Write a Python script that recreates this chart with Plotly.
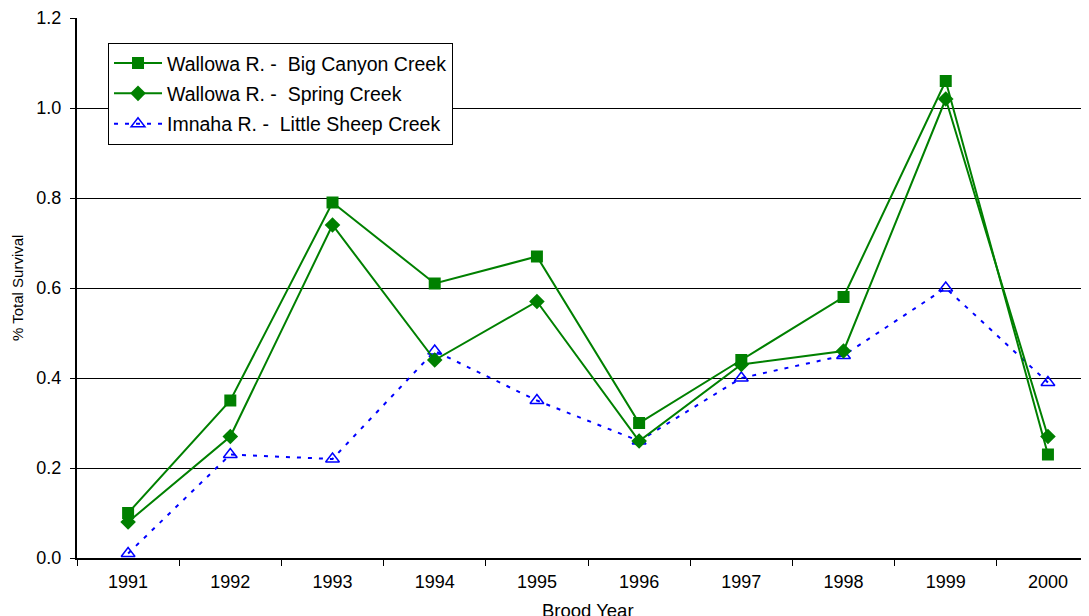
import plotly.graph_objects as go

years = ["1991", "1992", "1993", "1994", "1995", "1996", "1997", "1998", "1999", "2000"]
big_canyon = [0.10, 0.35, 0.79, 0.61, 0.67, 0.30, 0.44, 0.58, 1.06, 0.23]
spring_creek = [0.08, 0.27, 0.74, 0.44, 0.57, 0.26, 0.43, 0.46, 1.02, 0.27]
little_sheep = [0.01, 0.23, 0.22, 0.46, 0.35, 0.26, 0.40, 0.45, 0.60, 0.39]
y_ticks = [0.0, 0.2, 0.4, 0.6, 0.8, 1.0, 1.2]
y_tick_text = ["0.0", "0.2", "0.4", "0.6", "0.8", "1.0", "1.2"]

green = "#008000"
blue = "#0000FF"
font = "Liberation Sans, Arial, sans-serif"

fig = go.Figure()
fig.add_trace(go.Scatter(
    x=years, y=little_sheep, mode="lines+markers",
    name="Imnaha R. -\u00a0 Little Sheep Creek", legendgroup="c", legendrank=3,
    line=dict(color=blue, width=2, dash="4px,7px"),
    marker=dict(symbol="triangle-up-open", size=12, color=blue, line=dict(width=1.5, color=blue)),
))
fig.add_trace(go.Scatter(
    x=years, y=big_canyon, mode="lines+markers",
    name="Wallowa R. -\u00a0 Big Canyon Creek", legendgroup="a", legendrank=1,
    line=dict(color=green, width=2),
    marker=dict(symbol="square", size=12, color=green),
))
fig.add_trace(go.Scatter(
    x=years, y=spring_creek, mode="lines+markers",
    name="Wallowa R. -\u00a0 Spring Creek", legendgroup="b", legendrank=2,
    line=dict(color=green, width=2),
    marker=dict(symbol="diamond", size=12, color=green),
))

fig.update_layout(
    width=1089, height=616,
    margin=dict(l=69, r=0, t=10, b=66, autoexpand=False),
    paper_bgcolor="white", plot_bgcolor="white",
    font=dict(family=font, size=18, color="black"),
    showlegend=True,
    legend=dict(
        x=0.0304, y=0.954, xanchor="left", yanchor="top",
        bgcolor="white", bordercolor="black", borderwidth=1,
        font=dict(size=19.5, family=font, color="black"),
        traceorder="grouped", tracegroupgap=2,
        itemwidth=48,
    ),
    xaxis=dict(
        type="category", range=[-0.5, 9.48], automargin=False,
        showline=True, linecolor="black", linewidth=2,
        ticks="outside", tickson="boundaries", ticklen=6, tickcolor="black", tickwidth=1,
        showgrid=False, zeroline=False, ticklabelstandoff=6,
        tickfont=dict(size=18, family=font, color="black"),
        fixedrange=True,
    ),
    yaxis=dict(
        range=[0, 1.2], tickvals=y_ticks, ticktext=y_tick_text, automargin=False,
        showline=True, linecolor="black", linewidth=2,
        ticks="outside", ticklen=5, tickcolor="black",
        showgrid=True, gridcolor="black", gridwidth=1,
        zeroline=False, ticklabelstandoff=5,
        tickfont=dict(size=18, family=font, color="black"),
    ),
    annotations=[
        dict(
            text="Brood Year", xref="paper", yref="paper", x=0.501, y=0, yshift=-40,
            xanchor="center", yanchor="top", showarrow=False,
            font=dict(size=18.5, family=font, color="black"),
        ),
        dict(
            text="% Total Survival", xref="paper", yref="paper", x=0, xshift=-60, y=0.5,
            xanchor="center", yanchor="middle", showarrow=False, textangle=-90,
            font=dict(size=15, family=font, color="black"),
        ),
    ],
)

fig.write_html("out.html")
